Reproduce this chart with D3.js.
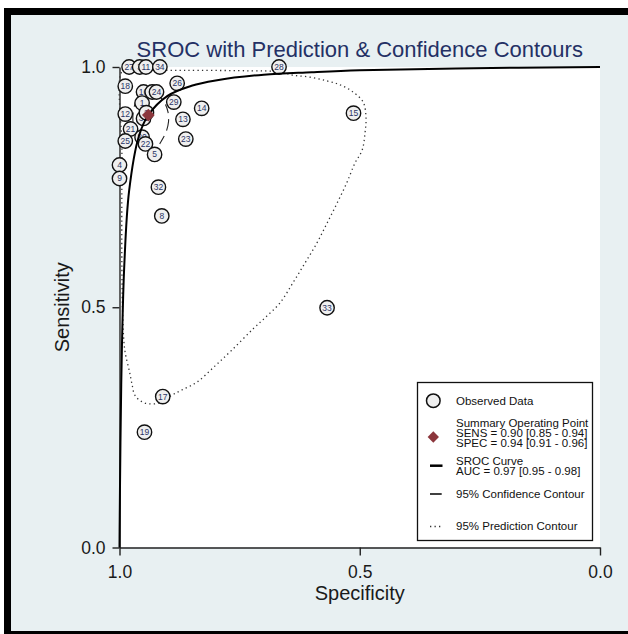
<!DOCTYPE html>
<html><head><meta charset="utf-8">
<script src="https://cdn.jsdelivr.net/npm/d3@7"></script>
<style>
html,body{margin:0;background:#fff;overflow:hidden;}
svg{display:block;font-family:"Liberation Sans",Arial,Helvetica,sans-serif;}
</style>
</head><body>
<svg id="chart" width="628" height="634"></svg>
<script>
// ---------- data ----------
const studyIds  = ["27","3","11","34","28","18","26","10","6","24","29","14","13","23","12","21","25","1","30","2","20","22","5","4","9","32","8","17","19","15","33"];
const studySpec = [0.980,0.958,0.945,0.916,0.668,0.988,0.880,0.950,0.932,0.923,0.887,0.829,0.868,0.862,0.988,0.977,0.988,0.953,0.950,0.944,0.953,0.946,0.927,1.000,1.000,0.919,0.912,0.910,0.948,0.513,0.568];
const studySens = [1.000,1.000,1.000,1.000,1.000,0.960,0.966,0.948,0.948,0.948,0.927,0.914,0.891,0.850,0.902,0.871,0.846,0.925,0.893,0.905,0.854,0.840,0.818,0.796,0.768,0.750,0.690,0.314,0.240,0.904,0.499];

const summarySpec = [0.94];
const summarySens = [0.90];

// SROC curve read along its path
const srocSpec = [1.000,0.9998,0.9995,0.999,0.998,0.995,0.990,0.980,0.960,0.940,0.900,0.850,0.800,0.700,0.600,0.500,0.300,0.000];
const srocSens = [0.000,0.030,0.066,0.124,0.220,0.415,0.588,0.742,0.855,0.900,0.940,0.961,0.972,0.984,0.989,0.993,0.997,1.000];

// 95% confidence contour (closed)
const confSpec = [0.899,0.898,0.903,0.914,0.926,0.941,0.955,0.966,0.972,0.970,0.962,0.947,0.930,0.916,0.905];
const confSens = [0.906,0.886,0.865,0.844,0.827,0.823,0.834,0.856,0.886,0.915,0.936,0.948,0.948,0.938,0.923];

// 95% prediction contour (closed)
const predSpec = [0.995,0.978,0.905,0.833,0.728,0.666,0.639,0.604,0.568,0.541,0.514,0.493,0.487,0.489,0.495,0.510,0.527,0.547,0.568,0.589,0.614,0.639,0.666,0.693,0.722,0.766,0.801,0.839,0.870,0.891,0.916,0.937,0.953,0.968,0.974,0.979,0.989,0.993,0.995,0.995];
const predSens = [0.990,0.993,0.993,0.993,0.992,0.990,0.983,0.979,0.971,0.963,0.948,0.927,0.896,0.863,0.827,0.800,0.759,0.717,0.675,0.634,0.592,0.551,0.509,0.482,0.455,0.411,0.378,0.344,0.328,0.317,0.301,0.299,0.303,0.317,0.340,0.365,0.411,0.474,0.578,0.827];

const xTicks = [1.0, 0.5, 0.0];
const yTicks = [0.0, 0.5, 1.0];

const titleText = "SROC with Prediction & Confidence Contours";
const xLabel = "Specificity";
const yLabel = "Sensitivity";
const legendObs = "Observed Data";
const legendSummary = ["Summary Operating Point", "SENS = 0.90 [0.85 - 0.94]", "SPEC = 0.94 [0.91 - 0.96]"];
const legendSroc = ["SROC Curve", "AUC = 0.97 [0.95 - 0.98]"];
const legendConf = "95% Confidence Contour";
const legendPred = "95% Prediction Contour";

// ---------- drawing ----------
const svg = d3.select("#chart");
const W = 628, H = 634;
const x = d3.scaleLinear().domain([1, 0]).range([119.5, 600]);
const y = d3.scaleLinear().domain([0, 1]).range([547.5, 67]);

svg.append("rect").attr("x",0).attr("y",0).attr("width",W).attr("height",H).attr("fill","#fff");
svg.append("rect").attr("x",4).attr("y",8).attr("width",W).attr("height",H).attr("fill","#000");
svg.append("rect").attr("x",11).attr("y",15).attr("width",W).attr("height",616).attr("fill","#e8f0f2");
svg.append("rect").attr("x",x(1)).attr("y",y(1)).attr("width",x(0)-x(1)).attr("height",y(0)-y(1)).attr("fill","#fff");

// title
svg.append("text").attr("x",(x(1)+x(0))/2).attr("y",57).attr("text-anchor","middle")
  .attr("font-size",22).attr("fill","#243065").text(titleText);

// axes
const gx = svg.append("g").attr("transform",`translate(0,${y(0)})`)
  .call(d3.axisBottom(x).tickValues(xTicks).tickFormat(d3.format(".1f")).tickSize(8).tickSizeOuter(0).tickPadding(10));
const gy = svg.append("g").attr("transform",`translate(${x(1)},0)`)
  .call(d3.axisLeft(y).tickValues(yTicks).tickFormat(d3.format(".1f")).tickSize(7).tickSizeOuter(0).tickPadding(7));
[gx,gy].forEach(g=>{
  g.selectAll(".domain").attr("stroke","#222").attr("stroke-width",1.4);
  g.selectAll(".tick line").attr("stroke","#222").attr("stroke-width",1.4);
  g.selectAll(".tick text").attr("font-size",17.5).attr("fill","#1a1a1a").attr("font-family",null);
});
svg.append("text").attr("x",(x(1)+x(0))/2).attr("y",600).attr("text-anchor","middle")
  .attr("font-size",20).attr("fill","#1a1a1a").text(xLabel);
svg.append("text").attr("transform",`translate(69,${(y(0)+y(1))/2}) rotate(-90)`).attr("text-anchor","middle")
  .attr("font-size",20).attr("fill","#1a1a1a").text(yLabel);

// contours
const predPts = predSpec.map((s,i)=>[x(s), y(predSens[i])]);
svg.append("path").attr("d", d3.line().curve(d3.curveCatmullRomClosed.alpha(0.5))(predPts))
  .attr("fill","none").attr("stroke","#333").attr("stroke-width",1.3)
  .attr("stroke-dasharray","1.3,3.2");

const confPts = confSpec.map((s,i)=>[x(s), y(confSens[i])]);
svg.append("path").attr("d", d3.line().curve(d3.curveCatmullRomClosed.alpha(0.5))(confPts))
  .attr("fill","none").attr("stroke","#222").attr("stroke-width",1.1)
  .attr("stroke-dasharray","9,6");

// observed studies
const pts = svg.append("g");
studyIds.forEach((id,i)=>{
  const cx = x(studySpec[i]), cy = y(studySens[i]);
  pts.append("circle").attr("cx",cx).attr("cy",cy).attr("r",7.2)
    .attr("fill","#efefef").attr("stroke","#111").attr("stroke-width",1.4);
  pts.append("text").attr("x",cx).attr("y",cy).attr("dy","0.35em").attr("text-anchor","middle")
    .attr("font-size",8.5).attr("fill","#2b3566").text(id);
});

// SROC curve
const srocPts = srocSpec.map((s,i)=>[x(s), y(srocSens[i])]);
svg.append("path").attr("d", d3.line().curve(d3.curveCatmullRom.alpha(0.5))(srocPts))
  .attr("fill","none").attr("stroke","#000").attr("stroke-width",2);

// summary point
svg.append("path").attr("d", d3.symbol().type(d3.symbolSquare).size(82)())
  .attr("transform",`translate(${x(summarySpec[0])},${y(summarySens[0])}) rotate(45)`)
  .attr("fill","#8c363c");

// legend
const lg = svg.append("g");
lg.append("rect").attr("x",417.5).attr("y",382.5).attr("width",175).attr("height",158)
  .attr("fill","#fff").attr("stroke","#111").attr("stroke-width",1.3);
const tx = 456, fs = 11.5;
function ltext(t, cy){ lg.append("text").attr("x",tx).attr("y",cy).attr("dy","0.35em").attr("font-size",fs).attr("fill","#111").text(t); }
lg.append("circle").attr("cx",433.3).attr("cy",400.7).attr("r",6.8).attr("fill","#efefef").attr("stroke","#111").attr("stroke-width",1.5);
ltext(legendObs, 400.7);
lg.append("path").attr("d", d3.symbol().type(d3.symbolSquare).size(64)())
  .attr("transform","translate(433.3,437) rotate(45)").attr("fill","#8c363c");
legendSummary.forEach((t,k)=>ltext(t, 422.5 + k*10));
lg.append("line").attr("x1",430).attr("x2",442.5).attr("y1",465.7).attr("y2",465.7).attr("stroke","#000").attr("stroke-width",2.5);
legendSroc.forEach((t,k)=>ltext(t, 460.7 + k*10));
lg.append("line").attr("x1",430).attr("x2",441.7).attr("y1",494).attr("y2",494).attr("stroke","#000").attr("stroke-width",1.5);
ltext(legendConf, 494);
lg.append("line").attr("x1",430).attr("x2",441).attr("y1",526.5).attr("y2",526.5).attr("stroke","#333").attr("stroke-width",1.3).attr("stroke-dasharray","1.3,3.2");
ltext(legendPred, 525.7);
</script>
</body></html>
